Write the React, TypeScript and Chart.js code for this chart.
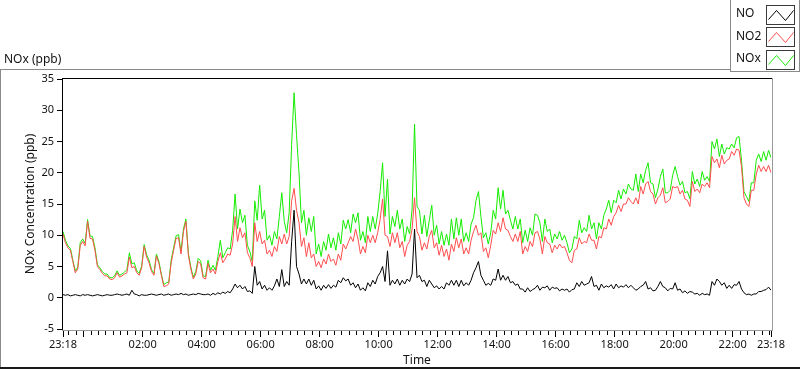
import React, { useEffect, useRef } from "react";
import { Chart, registerables } from "chart.js";

Chart.register(...registerables);

// ---- data (5-minute samples starting 23:18, 24 h span) ----
const START_TIME = "23:18";
const STEP_MINUTES = 5;
const SPAN_MINUTES = 1440;
const TIME_LABELS = ["23:18", "02:00", "04:00", "06:00", "08:00", "10:00", "12:00", "14:00", "16:00", "18:00", "20:00", "22:00", "23:18"];
const Y_TICKS = [-5, 0, 5, 10, 15, 20, 25, 30, 35];
const SERIES_NAMES = ["NO", "NO2", "NOx"];
const AXIS_TITLE_X = "Time";
const AXIS_TITLE_Y = "NOx Concentration (ppb)";
const PANEL_TITLE = "NOx (ppb)";

const NO = [
  0.5, 0.4, 0.5, 0.3, 0.4, 0.5, 0.4, 0.3, 0.5, 0.4,
  0.5, 0.4, 0.3, 0.4, 0.5, 0.4, 0.3, 0.4, 0.5, 0.4,
  0.4, 0.5, 0.6, 0.5, 0.4, 0.5, 0.6, 0.4, 1.2, 0.6,
  0.5, 0.3, 0.5, 0.4, 0.4, 0.5, 0.6, 0.5, 0.4, 0.5,
  0.6, 0.4, 0.5, 0.6, 0.4, 0.5, 0.6, 0.5, 0.7, 0.5,
  0.6, 0.4, 0.5, 0.6, 0.5, 0.7, 0.6, 0.5,
  0.5, 0.6, 0.4, 0.7, 0.5, 0.8, 0.6, 0.9, 0.7, 1.0,
  0.8, 1.4, 2.2, 1.6, 2.0, 1.4, 1.8, 1.0, 1.1, 0.7,
  5.0, 2.0, 2.6, 1.4, 2.0, 1.2, 1.6, 1.2, 1.9, 3.0,
  1.8, 4.5, 1.8, 2.6, 2.0, 9.0, 14.0, 5.0, 3.8, 2.2,
  3.0, 2.2, 3.0, 2.0, 2.8, 1.4, 1.9, 1.2, 2.0, 1.5,
  2.1, 1.5, 2.0, 1.7, 2.8, 2.4, 3.2, 2.7,
  3.0, 2.0, 2.4, 1.6, 2.2, 1.2, 1.6, 1.1, 2.4, 1.8,
  2.8, 2.2, 3.4, 4.0, 5.0, 2.6, 7.5, 2.0, 2.8, 2.2,
  3.0, 2.0, 2.8, 2.2, 3.0, 2.6, 3.8, 11.0, 3.2, 3.6,
  2.6, 2.8, 1.8, 2.8, 2.2, 1.6, 1.9, 1.4, 1.8, 1.4,
  2.4, 2.0, 2.8, 2.0, 2.8, 1.8, 2.8, 1.9, 2.4, 2.0,
  2.8, 4.0, 4.8, 5.8, 3.6, 2.8, 2.0, 2.3,
  2.0, 3.0, 2.8, 4.6, 2.8, 3.6, 2.8, 3.4, 2.4, 2.6,
  2.0, 2.2, 1.4, 1.4, 0.9, 1.6, 1.0, 1.3, 1.5, 2.0,
  1.2, 1.7, 1.6, 1.9, 1.2, 1.7, 1.5, 1.6, 1.1, 1.4,
  1.2, 1.4, 0.9, 1.3, 1.4, 2.4, 1.8, 2.6, 2.0, 2.2,
  2.4, 3.4, 1.8, 2.0, 1.2, 2.2, 1.6, 1.9, 1.7, 2.1,
  1.4, 2.2, 1.6, 1.9, 1.7, 2.1, 1.6, 2.0,
  1.6, 1.2, 1.4, 1.8, 2.0, 2.6, 1.4, 1.6, 1.1, 1.2,
  1.8, 2.6, 1.8, 1.6, 1.1, 1.5, 1.4, 2.4, 1.2, 1.4,
  0.8, 1.1, 0.7, 1.0, 0.9, 0.6, 0.7, 0.4, 0.7, 0.5,
  0.6, 0.4, 2.6, 2.0, 3.0, 2.6, 2.0, 2.4, 1.5, 2.0,
  1.5, 2.1, 2.0, 2.6, 1.4, 0.8, 0.5, 0.6, 0.4, 0.6,
  0.6, 1.0, 1.0, 1.2, 1.3, 1.7, 1.2,
];

const NO2 = [
  10.2, 8.8, 8.0, 7.6, 5.8, 4.0, 4.6, 8.3, 9.0, 8.3,
  12.2, 9.5, 9.4, 7.6, 5.0, 4.5, 3.9, 3.5, 3.5, 3.0,
  2.9, 3.2, 4.0, 3.3, 3.5, 3.8, 4.0, 6.5, 4.8, 5.0,
  4.0, 3.6, 4.8, 8.2, 6.5, 5.6, 4.2, 3.6, 6.7, 5.5,
  3.6, 1.8, 1.9, 2.2, 5.6, 7.6, 9.5, 9.6, 7.0, 10.6,
  12.2, 6.8, 4.6, 3.0, 3.8, 5.8, 5.4, 3.2,
  3.0, 5.5, 4.0, 4.6, 3.8, 5.8, 7.2, 5.6, 6.2, 7.0,
  6.8, 8.6, 13.0, 9.0, 11.2, 9.6, 10.4, 7.2, 6.4, 5.0,
  12.0, 9.0, 10.6, 8.6, 9.2, 7.0, 7.6, 6.6, 8.2, 7.4,
  9.8, 8.6, 10.2, 8.6, 9.8, 15.5, 17.5, 14.0, 12.0, 8.2,
  9.6, 6.6, 8.8, 6.4, 7.0, 5.0, 5.8, 4.8, 6.2, 5.4,
  7.0, 5.8, 6.2, 5.2, 7.0, 6.0, 8.6, 7.8,
  8.8, 9.8, 9.0, 11.0, 9.4, 7.0, 8.2, 7.2, 10.0, 8.8,
  10.0, 8.8, 10.4, 12.5, 15.8, 10.0, 9.8, 8.2, 10.4, 8.8,
  10.4, 8.0, 9.0, 6.6, 8.4, 9.0, 11.0, 16.0, 10.6, 9.8,
  7.6, 8.8, 7.8, 9.8, 10.8, 8.0, 8.8, 6.8, 8.4, 6.6,
  7.8, 6.0, 8.6, 7.4, 9.6, 8.0, 9.4, 7.0, 8.0, 7.0,
  9.2, 10.6, 11.6, 10.0, 10.4, 7.4, 8.0, 6.4,
  8.4, 10.8, 10.2, 12.0, 10.6, 12.8, 11.0, 10.8, 9.8, 9.0,
  10.2, 9.0, 10.6, 7.0, 8.2, 7.4, 9.0, 8.2, 10.4, 10.6,
  9.4, 7.0, 9.8, 8.8, 8.6, 7.2, 8.4, 7.8, 8.6, 8.0,
  8.2, 7.2, 6.0, 5.6, 7.6, 7.8, 9.6, 8.6, 9.0, 8.8,
  10.2, 9.2, 9.2, 7.8, 9.8, 9.6, 11.2, 11.0, 12.6, 11.6,
  13.0, 13.6, 14.8, 13.8, 15.0, 15.0, 16.0, 15.4,
  15.0, 16.0, 15.0, 17.8, 16.6, 18.2, 18.6, 17.0, 16.6, 15.0,
  16.0, 16.4, 17.6, 15.2, 15.4, 15.8, 17.8, 17.6, 17.8, 16.6,
  17.2, 15.8, 15.6, 14.6, 18.6, 17.0, 17.4, 16.8, 18.2, 17.8,
  18.4, 17.6, 22.6, 21.6, 22.2, 20.8, 22.8, 21.4, 22.0, 22.2,
  23.4, 22.8, 23.8, 23.6, 21.0, 16.0, 15.0, 14.6, 17.2, 17.2,
  19.8, 21.2, 20.2, 21.0, 20.2, 21.2, 20.0,
];

const NOX = [
  10.6, 9.2, 8.3, 7.9, 6.0, 4.3, 4.9, 8.8, 9.4, 8.7,
  12.5, 9.9, 9.8, 8.0, 5.3, 4.8, 4.2, 3.8, 3.8, 3.2,
  3.2, 3.5, 4.3, 3.6, 3.8, 4.1, 4.5, 7.2, 5.4, 5.6,
  4.3, 3.9, 5.1, 8.5, 6.9, 6.0, 4.5, 3.9, 7.0, 5.8,
  3.8, 2.1, 2.4, 2.5, 6.0, 8.0, 9.9, 10.1, 7.4, 11.0,
  12.6, 7.1, 4.9, 3.3, 4.2, 6.3, 5.9, 3.5,
  3.4, 6.0, 4.4, 5.2, 4.4, 6.6, 9.2, 6.4, 7.2, 8.0,
  7.8, 10.8, 16.6, 11.0, 14.2, 12.0, 13.2, 8.4, 7.4, 5.8,
  15.5, 12.4, 18.0, 12.6, 14.0, 9.2, 10.0, 8.4, 10.6, 9.4,
  13.0, 16.8, 12.2, 10.4, 13.6, 24.5, 32.8, 26.0, 20.0, 12.0,
  14.0, 10.0, 12.8, 10.6, 13.0, 7.0, 8.6, 6.6, 9.0, 7.6,
  10.2, 8.0, 9.6, 7.6, 10.4, 8.6, 12.4, 11.0,
  12.5, 10.4, 13.4, 12.0, 13.6, 9.2, 10.6, 8.8, 13.0, 10.6,
  13.0, 11.0, 13.4, 17.0, 21.6, 13.0, 19.0, 10.2, 13.0, 11.4,
  14.0, 11.0, 12.6, 9.0, 11.4, 10.2, 14.2, 27.8, 14.6, 14.0,
  10.2, 13.2, 9.8, 12.4, 14.8, 10.0, 11.6, 8.6, 10.6, 8.4,
  10.2, 8.4, 12.6, 9.4, 12.8, 10.0, 12.6, 9.0, 10.4, 9.0,
  11.8, 12.8, 15.6, 17.0, 13.0, 9.6, 10.4, 8.6,
  10.4, 14.0, 12.6, 17.6, 14.2, 17.2, 13.4, 14.0, 12.4, 11.0,
  13.0, 11.0, 12.6, 8.8, 10.8, 9.0, 11.2, 10.0, 13.4, 13.2,
  12.0, 9.0, 12.6, 10.6, 11.0, 8.8, 10.2, 9.4, 10.6, 9.2,
  10.0, 8.8, 7.2, 7.8, 9.8, 9.4, 12.4, 10.4, 11.2, 10.6,
  13.2, 11.0, 12.0, 9.4, 12.0, 11.0, 13.2, 14.2, 15.6, 13.6,
  15.6, 15.2, 17.2, 15.8, 17.4, 16.6, 18.2, 17.4,
  17.2, 19.8, 17.0, 19.8, 18.4, 20.4, 21.6, 18.4, 18.2, 16.0,
  17.4, 19.4, 20.6, 16.8, 16.8, 17.2, 19.6, 21.0, 19.4, 18.0,
  18.6, 16.8, 17.0, 15.8, 20.2, 18.2, 19.0, 17.8, 20.2, 18.8,
  19.4, 18.6, 25.0, 23.8, 25.4, 22.6, 24.6, 23.0, 24.0, 23.8,
  24.6, 24.0, 25.6, 25.8, 22.0, 17.0, 16.2, 15.4, 18.4, 18.4,
  22.0, 23.0, 21.8, 23.4, 22.0, 23.6, 22.4,
];

const COLORS = ["#000000", "#ff4d4d", "#14ec00"];
const FONT = "'Noto Sans', 'DejaVu Sans', sans-serif";

function toMinutes(s: string): number {
  const [h, m] = s.split(":").map(Number);
  return h * 60 + m;
}
const START = toMinutes(START_TIME);
const LABEL_OFFSETS = TIME_LABELS.map((t, i) =>
  i === TIME_LABELS.length - 1 ? SPAN_MINUTES : (toMinutes(t) - START + 1440) % 1440
);

function toPoints(arr: number[]) {
  return arr.map((v, i) => ({ x: i * STEP_MINUTES, y: v }));
}

const framePlugin = {
  id: "labviewFrame",
  afterDraw(chart: any) {
    const ctx: CanvasRenderingContext2D = chart.ctx;
    const xs = chart.scales.x;
    const ys = chart.scales.y;
    const a = chart.chartArea;
    ctx.save();

    // outer panel
    ctx.fillStyle = "#8a8a8a";
    ctx.fillRect(0, 69, 730, 1);
    ctx.fillRect(0, 69, 1, 298);
    ctx.fillStyle = "#1a1a1a";
    ctx.fillRect(0, 367, 800, 2);

    // plot box
    const L = Math.round(a.left) - 1;
    const T = Math.round(a.top) - 1;
    const R = Math.round(a.right) + 1;
    const B = Math.round(a.bottom) + 1;
    ctx.fillStyle = "#000";
    ctx.fillRect(L, T, R - L + 1, 1);
    ctx.fillRect(L, T, 1, B - T + 1);
    ctx.fillStyle = "#9a9a9a";
    ctx.fillRect(L, B, R - L + 1, 1);
    ctx.fillRect(R, T, 1, B - T + 1);

    // y ticks
    ctx.fillStyle = "#000";
    for (const v of Y_TICKS) {
      const py = Math.floor(ys.getPixelForValue(v));
      ctx.fillRect(L - 5, py, 5, 1);
    }
    // x ticks: minor every 15 min, major every 2 h
    const drawX = (m: number, len: number) => {
      const px = Math.floor(xs.getPixelForValue(m));
      ctx.fillRect(px, B + 1, 1, len);
    };
    for (let m = 0; m <= SPAN_MINUTES; m++) {
      const clock = (START + m) % 1440;
      if (clock % 15 === 0) drawX(m, clock % 120 === 0 ? 6 : 4);
    }
    drawX(0, 6);
    drawX(SPAN_MINUTES, 6);

    // texts
    ctx.fillStyle = "#111";
    ctx.font = `12px ${FONT}`;
    ctx.textBaseline = "middle";
    ctx.textAlign = "left";
    ctx.fillText(PANEL_TITLE, 4, 60);
    ctx.textAlign = "center";
    ctx.fillText(AXIS_TITLE_X, (a.left + a.right) / 2, 361);
    ctx.save();
    ctx.translate(31, (a.top + a.bottom) / 2);
    ctx.rotate(-Math.PI / 2);
    ctx.fillText(AXIS_TITLE_Y, 0, 0);
    ctx.restore();

    // legend
    ctx.fillStyle = "#8a8a8a";
    ctx.fillRect(730, 0, 1, 72);
    ctx.fillRect(730, 71, 70, 1);
    ctx.fillRect(799, 0, 1, 72);
    SERIES_NAMES.forEach((name, i) => {
      const top = 4.5 + i * 22.5;
      ctx.fillStyle = "#111";
      ctx.textAlign = "left";
      ctx.textBaseline = "middle";
      ctx.font = `12px ${FONT}`;
      ctx.fillText(name, 736, top + 9.5);
      ctx.strokeStyle = "#3a3a3a";
      ctx.lineWidth = 1;
      const bx = 766.5;
      const by = Math.round(top) + 0.5;
      ctx.strokeRect(bx, by, 28, 19);
      ctx.strokeStyle = COLORS[i];
      ctx.beginPath();
      ctx.moveTo(bx + 2, by + 14);
      ctx.lineTo(bx + 10, by + 5);
      ctx.lineTo(bx + 19, by + 15);
      ctx.lineTo(bx + 27, by + 5);
      ctx.stroke();
    });

    ctx.restore();
  },
};

export default function App() {
  const ref = useRef<HTMLCanvasElement>(null);
  useEffect(() => {
    const canvas = ref.current;
    if (!canvas) return;
    Chart.defaults.font.family = FONT;
    const seriesData = [NO, NO2, NOX];
    const chart = new Chart(canvas, {
      type: "line",
      data: {
        datasets: SERIES_NAMES.map((name, i) => ({
          label: name,
          data: toPoints(seriesData[i]),
          borderColor: COLORS[i],
          backgroundColor: COLORS[i],
          borderWidth: 1,
          pointRadius: 0,
          tension: 0,
          fill: false,
          order: i,
        })),
      },
      options: {
        responsive: false,
        animation: false,
        devicePixelRatio: 1,
        events: [],
        layout: { padding: { left: 0, top: 79, right: 29, bottom: 0 } },
        plugins: {
          legend: { display: false },
          tooltip: { enabled: false },
          title: { display: false },
        },
        scales: {
          x: {
            type: "linear",
            min: 0,
            max: SPAN_MINUTES,
            grid: { display: false, drawTicks: false },
            border: { display: false },
            afterBuildTicks: (s: any) => {
              s.ticks = LABEL_OFFSETS.map((v) => ({ value: v }));
            },
            afterFit: (s: any) => {
              s.height = 40;
            },
            ticks: {
              autoSkip: false,
              maxRotation: 0,
              minRotation: 0,
              padding: 9,
              color: "#111",
              font: { size: 11, family: FONT },
              callback: (_v: any, i: number) => TIME_LABELS[i],
            },
          },
          y: {
            type: "linear",
            min: -5,
            max: 35,
            grid: { display: false, drawTicks: false },
            border: { display: false },
            afterFit: (s: any) => {
              s.width = 63;
            },
            ticks: {
              stepSize: 5,
              padding: 9,
              color: "#111",
              font: { size: 11, family: FONT },
            },
          },
        },
      } as any,
      plugins: [framePlugin],
    });
    return () => chart.destroy();
  }, []);
  return (
    <div style={{ position: "absolute", left: 0, top: 0, width: 800, height: 369, background: "#fff" }}>
      <canvas ref={ref} width={800} height={369} style={{ display: "block", width: 800, height: 369 }} />
    </div>
  );
}
